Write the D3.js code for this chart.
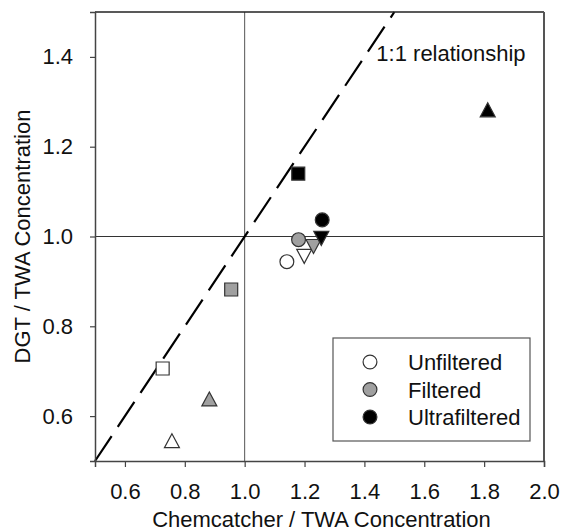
<!DOCTYPE html>
<html><head><meta charset="utf-8">
<script src="https://cdn.jsdelivr.net/npm/d3@7"></script>
<style>body{margin:0;background:#fff}svg{display:block}text{font-family:"Liberation Sans",Arial,sans-serif;fill:#111}</style>
</head><body>
<script>
const groups = ["Unfiltered","Filtered","Ultrafiltered"];
const groupFill = ["#ffffff","#a0a0a0","#000000"];
const shapes = ["circle","triangleDown","triangleUp","square"];
// values per group, per shape: [x, y]
const unfilteredX = [1.141, 1.199, 0.757, 0.726];
const unfilteredY = [0.944, 0.958, 0.543, 0.706];
const filteredX = [1.180, 1.230, 0.882, 0.955];
const filteredY = [0.993, 0.980, 0.636, 0.882];
const ultrafilteredX = [1.259, 1.256, 1.812, 1.179];
const ultrafilteredY = [1.037, 0.998, 1.280, 1.140];
const xTicks = [0.6,0.8,1.0,1.2,1.4,1.6,1.8,2.0];
const yTicks = [0.6,0.8,1.0,1.2,1.4];
const oneToOne = [[0.5,0.5],[1.5,1.5]];

const W=561,H=532;
const m={l:95,r:544,t:12,b:461};
const svg=d3.select("body").append("svg").attr("width",W).attr("height",H);
const x=d3.scaleLinear().domain([0.5,2.0]).range([m.l,m.r]);
const y=d3.scaleLinear().domain([0.5,1.5]).range([m.b,m.t]);

// reference lines
svg.append("line").attr("x1",x(1)).attr("x2",x(1)).attr("y1",m.t).attr("y2",m.b).attr("stroke","#555").attr("stroke-width",1);
svg.append("line").attr("x1",m.l).attr("x2",m.r).attr("y1",y(1)).attr("y2",y(1)).attr("stroke","#333").attr("stroke-width",1.2);

// 1:1 line
svg.append("line").attr("x1",x(oneToOne[0][0])).attr("y1",y(oneToOne[0][1]))
  .attr("x2",x(oneToOne[1][0])).attr("y2",y(oneToOne[1][1]))
  .attr("stroke","#000").attr("stroke-width",2.2).attr("stroke-dasharray","30,11");
svg.append("text").attr("x",x(1.44)).attr("y",y(1.4)+4).attr("font-size",22).text("1:1 relationship");

// frame
svg.append("line").attr("x1",m.l).attr("x2",m.r).attr("y1",m.t).attr("y2",m.t).attr("stroke","#222").attr("stroke-width",1.5);
svg.append("line").attr("x1",m.r).attr("x2",m.r).attr("y1",m.t).attr("y2",m.b).attr("stroke","#555").attr("stroke-width",2);

// axes
const xa=svg.append("g").attr("transform",`translate(0,${m.b})`)
  .call(d3.axisBottom(x).tickValues(xTicks).tickFormat(d3.format(".1f")).tickSize(6).tickPadding(16));
const ya=svg.append("g").attr("transform",`translate(${m.l},0)`)
  .call(d3.axisLeft(y).tickValues(yTicks).tickFormat(d3.format(".1f")).tickSize(5).tickPadding(17));
[xa,ya].forEach(a=>{
  a.select(".domain").attr("stroke","#444").attr("stroke-width",1.5);
  a.selectAll(".tick line").attr("stroke","#444").attr("stroke-width",1.2);
  a.selectAll(".tick text").attr("font-size",22).attr("font-family","Liberation Sans, Arial, sans-serif").attr("fill","#111");
});

svg.append("text").attr("x",(m.l+m.r)/2+2).attr("y",527).attr("text-anchor","middle").attr("font-size",22).text("Chemcatcher / TWA Concentration");
svg.append("text").attr("transform",`translate(30,${(m.t+m.b)/2}) rotate(-90)`).attr("text-anchor","middle").attr("font-size",22).text("DGT / TWA Concentration");

// markers
function shapePath(s){
  if(s==="circle") return d3.symbol(d3.symbolCircle,150)();
  if(s==="square") return "M-6.5,-6.5H6.5V6.5H-6.5Z";
  if(s==="triangleUp") return "M0,-8L7.5,6L-7.5,6Z";
  return "M0,8L7.5,-6L-7.5,-6Z";
}
const allX=[unfilteredX,filteredX,ultrafilteredX], allY=[unfilteredY,filteredY,ultrafilteredY];
const pts=[];
groups.forEach((g,gi)=>shapes.forEach((s,si)=>pts.push({g:gi,s,x:allX[gi][si],y:allY[gi][si]})));
svg.append("g").selectAll("path").data(pts).join("path")
  .attr("transform",d=>`translate(${x(d.x)},${y(d.y)})`)
  .attr("d",d=>shapePath(d.s))
  .attr("fill",d=>groupFill[d.g]).attr("stroke","#333").attr("stroke-width",1.2);

// legend
const lg=svg.append("g");
lg.append("rect").attr("x",333).attr("y",338).attr("width",197).attr("height",103).attr("fill","#fff").attr("stroke","#555").attr("stroke-width",1.2);
groups.forEach((g,i)=>{
  const cy=362+i*27.5;
  lg.append("path").attr("transform",`translate(370,${cy})`).attr("d",d3.symbol(d3.symbolCircle,150)())
    .attr("fill",groupFill[i]).attr("stroke","#333").attr("stroke-width",1.2);
  lg.append("text").attr("x",408).attr("y",cy+8).attr("font-size",22).text(g);
});
</script>
</body></html>
